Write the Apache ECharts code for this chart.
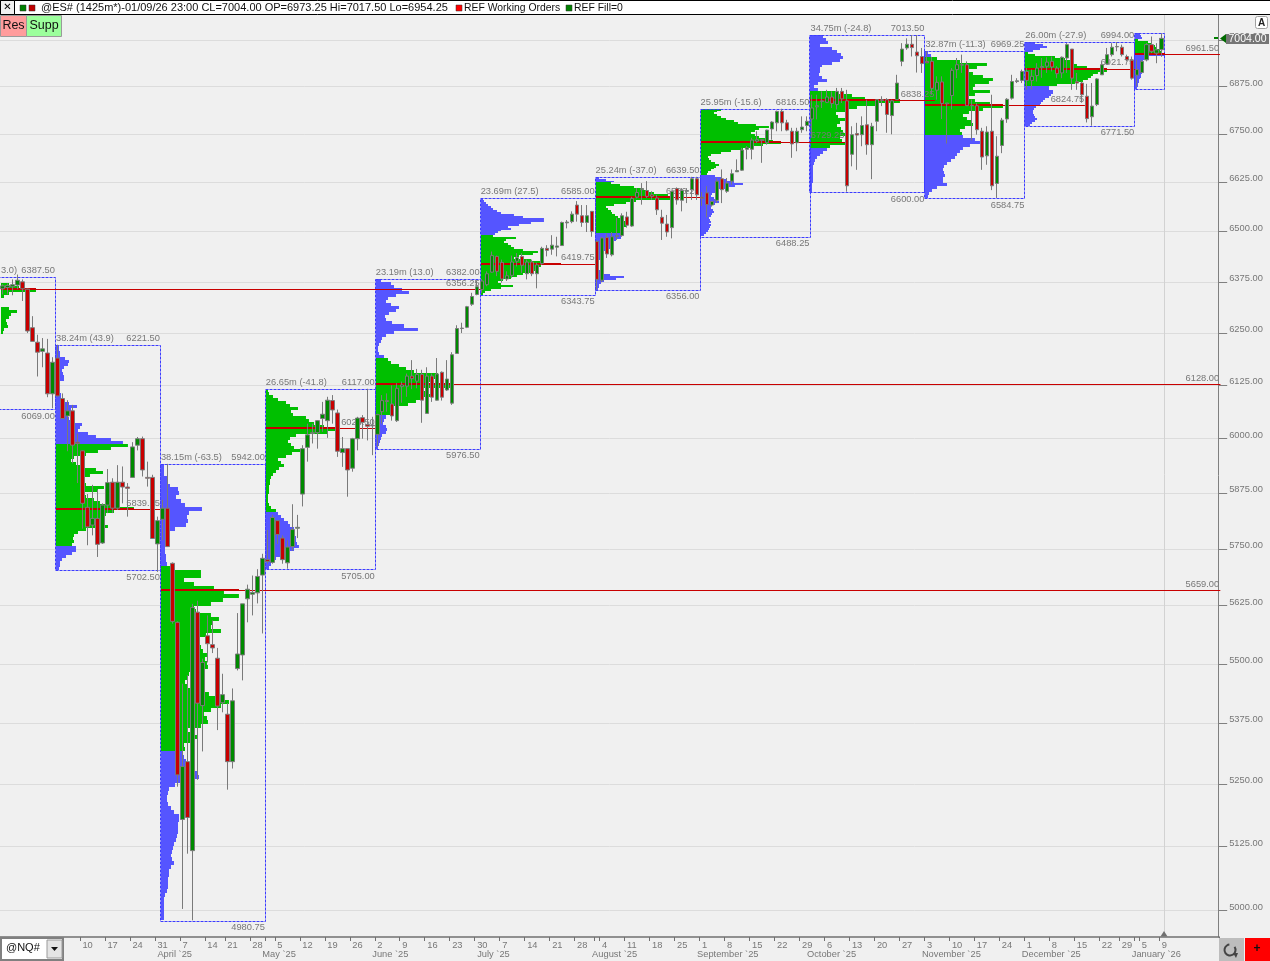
<!DOCTYPE html>
<html><head><meta charset="utf-8">
<style>html,body{margin:0;padding:0;background:#f0f0f0;overflow:hidden}#c{width:1270px;height:961px}</style>
<script src="https://cdn.jsdelivr.net/npm/echarts@6/dist/echarts.min.js"></script>
</head><body><div id="c"></div>
<script>
// rows are [open, close, low, high]
const candles = [
[6358,6365,6344,6369],[6361,6366,6344,6371],[6363,6368,6342,6381],[6367,6379,6357,6393],[6375,6358,6328,6381],
[6357,6255,6250,6358],[6263,6230,6230,6291],[6228,6204,6146,6246],[6206,6212,6168,6238],[6202,6105,6097,6236],
[6105,6180,6071,6192],[6190,6100,6098,6222],[6094,6047,6047,6106],[6053,6065,5971,6090],[6065,5985,5943,6079],
[5992,5989,5898,6012],[5972,5852,5795,5973],[5843,5799,5758,5873],[5803,5818,5780,5894],[5818,5760,5732,5883],
[5763,5848,5761,5852],[5848,5899,5830,5930],[5900,5841,5830,5909],[5841,5900,5837,5939],[5900,5889,5852,5936],
[5889,5886,5822,5898],[5911,5981,5911,5992],[5985,6000,5973,6004],[6000,5928,5913,6005],[5911,5909,5890,5947],
[5911,5773,5773,5917],[5761,5813,5699,5822],[5816,5841,5769,5860],[5841,5755,5754,5942],[5718,5591,5586,5720],
[5589,5269,5245,5591],[5179,5286,5003,5458],[5296,5183,5111,5476],[5117,5621,4981,5629],[5611,5417,5259,5636],
[5412,5503,5317,5511],[5560,5543,5503,5604],[5541,5534,5523,5593],[5512,5411,5361,5534],[5418,5435,5398,5479],
[5394,5296,5239,5417],[5296,5422,5282,5448],[5490,5521,5486,5609],[5519,5629,5465,5629],[5640,5661,5589,5671],
[5650,5654,5604,5691],[5653,5689,5630,5705],[5692,5729,5565,5739],[5726,5722,5717,5792],[5720,5820,5717,5826],
[5813,5782,5761,5814],[5774,5726,5717,5780],[5719,5754,5706,5769],[5755,5793,5746,5850],[5796,5798,5774,5826],
[5873,5977,5845,5985],[5980,6009,5947,6035],[6012,6014,5989,6035],[6014,6042,5977,6043],[6047,6057,6016,6086],
[6042,6090,6002,6098],[6089,6067,6035,6102],[6060,5971,5958,6068],[5968,5977,5935,6004],[5977,5928,5867,5977],
[5932,6000,5924,6002],[6000,6048,5973,6051],[6049,6038,6000,6055],[6033,6029,5996,6117],[6031,6030,5962,6051],
[6010,6056,5981,6058],[6063,6089,6035,6102],[6089,6087,6063,6106],[6081,6053,6042,6125],[6042,6118,6039,6130],
[6122,6126,6084,6134],[6123,6147,6098,6153],[6147,6141,6116,6185],[6135,6151,6118,6164],[6151,6090,6037,6162],
[6059,6147,6059,6168],[6147,6097,6086,6153],[6090,6152,6089,6190],[6156,6097,6089,6158],[6114,6140,6112,6185],
[6083,6198,6079,6204],[6201,6261,6200,6269],[6261,6262,6250,6275],[6264,6314,6262,6316],[6320,6339,6316,6348],
[6344,6363,6342,6377],[6356,6377,6348,6382],[6368,6395,6364,6401],[6399,6440,6398,6450],[6438,6401,6389,6440],
[6423,6382,6373,6430],[6382,6390,6377,6401],[6391,6424,6385,6440],[6426,6435,6413,6446],[6438,6416,6397,6446],
[6395,6424,6381,6430],[6424,6395,6389,6430],[6395,6417,6359,6422],[6420,6458,6417,6462],[6458,6453,6438,6466],
[6456,6466,6442,6491],[6461,6464,6438,6487],[6465,6523,6464,6525],[6522,6524,6508,6529],[6525,6544,6521,6551],
[6567,6544,6525,6577],[6540,6523,6512,6567],[6523,6540,6499,6567],[6551,6500,6487,6551],[6475,6381,6356,6479],
[6379,6484,6374,6487],[6485,6444,6434,6495],[6442,6487,6438,6499],[6488,6490,6479,6535],[6490,6540,6487,6546],
[6537,6516,6510,6550],[6514,6584,6512,6588],[6587,6599,6584,6610],[6606,6609,6568,6623],[6604,6589,6585,6628],
[6593,6589,6580,6602],[6585,6555,6542,6593],[6536,6521,6479,6555],[6519,6499,6487,6542],[6510,6602,6483,6602],
[6609,6580,6568,6612],[6579,6604,6551,6610],[6602,6604,6572,6610],[6606,6634,6580,6639],[6634,6593,6580,6639],
[6587,6584,6565,6600],[6598,6568,6536,6615],[6567,6576,6563,6576],[6579,6628,6572,6636],[6634,6606,6572,6658],
[6602,6623,6598,6636],[6628,6647,6619,6658],[6652,6655,6652,6684],[6656,6708,6654,6714],[6710,6714,6684,6718],
[6710,6734,6684,6740],[6731,6735,6727,6757],[6735,6733,6675,6735],[6727,6760,6722,6761],[6763,6781,6735,6783],
[6779,6809,6757,6811],[6809,6779,6757,6816],[6779,6760,6757,6787],[6757,6724,6688,6766],[6727,6757,6705,6766],
[6761,6768,6753,6796],[6772,6783,6757,6796],[6789,6818,6740,6853],[6821,6824,6788,6853],[6835,6837,6818,6862],
[6833,6847,6831,6866],[6847,6830,6818,6862],[6827,6862,6814,6871],[6862,6842,6831,6871],[6837,6616,6601,6866],
[6697,6748,6666,6770],[6751,6747,6657,6779],[6748,6772,6718,6796],[6774,6722,6696,6840],[6722,6770,6633,6779],
[6783,6840,6757,6840],[6840,6838,6823,6849],[6840,6801,6753,6844],[6798,6837,6749,6840],[6840,6884,6840,6906],
[6942,6975,6929,6991],[6978,6988,6973,7004],[6988,6979,6955,7013],[6967,6957,6912,7013],[6955,6936,6911,6978],
[6942,6938,6938,6969],[6942,6870,6853,6954],[6865,6886,6840,6902],[6887,6830,6789,6902],[6829,6831,6725,6831],
[6851,6918,6814,6924],[6920,6933,6897,6951],[6933,6932,6911,6960],[6933,6824,6824,6942],[6825,6824,6733,6840],
[6824,6761,6748,6831],[6757,6690,6657,6766],[6693,6755,6670,6770],[6757,6616,6605,6853],[6622,6692,6585,6744],
[6720,6786,6700,6792],[6789,6841,6779,6844],[6844,6888,6840,6906],[6888,6890,6884,6897],[6891,6915,6884,6920],
[6915,6891,6867,6924],[6891,6902,6867,6920],[6904,6924,6888,6937],[6925,6928,6898,6951],[6929,6940,6911,6953],
[6942,6927,6915,6955],[6924,6909,6897,6929],[6911,6953,6897,6955],[6951,6987,6911,6991],[6975,6897,6866,6975],
[6888,6884,6866,6911],[6884,6853,6832,6888],[6849,6790,6780,6882],[6795,6823,6771.5,6884],[6827,6895,6823,6897],
[6906,6933,6906,6942],[6935,6960,6933,6978],[6960,6980,6955,6991],[6981,6982,6969,6994],[6980,6960,6955,6987],
[6955,6946,6942,6960],[6945,6897,6893,6955],[6905,6920,6875,6946],[6912,6942,6911,6946],[6946,6987,6942,6991],
[6987,6969,6964,7009],[6964,6973,6937,6991],[6973.25,7004,6954.25,7017.5]
];

const priceTicks = [7000,6875,6750,6625,6500,6375,6250,6125,6000,5875,5750,5625,5500,5375,5250,5125,5000];
const holidays = ['2025-04-18','2025-12-25','2026-01-01'];
const labelledTicks = {'2025-03-10':'10','2025-03-17':'17','2025-03-24':'24','2025-03-31':'31','2025-04-07':'7','2025-04-14':'14','2025-04-21':'21','2025-04-28':'28','2025-05-05':'5','2025-05-12':'12','2025-05-19':'19','2025-05-26':'26','2025-06-02':'2','2025-06-09':'9','2025-06-16':'16','2025-06-23':'23','2025-06-30':'30','2025-07-07':'7','2025-07-14':'14','2025-07-21':'21','2025-07-28':'28','2025-08-04':'4','2025-08-11':'11','2025-08-18':'18','2025-08-25':'25','2025-09-01':'1','2025-09-08':'8','2025-09-15':'15','2025-09-22':'22','2025-09-29':'29','2025-10-06':'6','2025-10-13':'13','2025-10-20':'20','2025-10-27':'27','2025-11-03':'3','2025-11-10':'10','2025-11-17':'17','2025-11-24':'24','2025-12-01':'1','2025-12-08':'8','2025-12-15':'15','2025-12-22':'22','2025-12-29':'29','2026-01-05':'5','2026-01-09':'9'};
const unlabelledTicks = ['2025-05-01','2025-08-01','2026-01-02'];
const monthLabels = {'2025-03-31':'April `25','2025-04-30':'May `25','2025-05-30':'June `25','2025-06-30':'July `25','2025-07-31':'August `25','2025-08-29':'September `25','2025-09-30':'October `25','2025-10-31':'November `25','2025-11-28':'December `25','2025-12-31':'January `26'};

const profileStarts = [0,11,32,53,75,96,119,140,162,185,205,227];
const profileEnds   = [11,32,53,75,96,119,140,162,185,205,227,233];
const profileHighs  = [6387.5,6221.5,5942,6117,6382,6585,6639.5,6816.5,7013.5,6969.25,6994,7017.5];
const profileLows   = [6069,5702.5,4980.75,5705,5976.5,6343.75,6356,6488.25,6600,6584.75,6771.5,6868];
const volumeLabels  = ['3.0)','38.24m (43.9)','38.15m (-63.5)','26.65m (-41.8)','23.19m (13.0)','23.69m (27.5)','25.24m (-37.0)','25.95m (-15.6)','34.75m (-24.8)','32.87m (-11.3)','26.00m (-27.9)',''];
const highLabels    = ['6387.50','6221.50','5942.00','6117.00','6382.00','6585.00','6639.50','6816.50','7013.50','6969.25','6994.00',''];
const lowLabels     = ['6069.00','5702.50','4980.75','5705.00','5976.50','6343.75','6356.00','6488.25','6600.00','6584.75','6771.50',''];
const pocPrices     = [6356.25,5839.25,5659,6024.5,6128,6419.75,6586.25,6729.25,6838.25,6824.75,6921.75,6961.5];
const pocEnds       = [96,32,243.6,75,243.6,119,140,169,187.4,216.6,227,243.6];
const vaHighs       = [6400,5988,5710,6117,6190,6491,6627,6817,6866,6954,6965,7000];
const vaLows        = [6000,5753,5317,5830,6055,6343,6495,6642,6714,6743,6879,6959];

const volFeb = [0,0,8,18,35,8,3,0,0,0,8,16,10,8,5,6,7,3,2,0,0,0,0,0,0,0,0,0,0,0,0,0,0,0,0,0,0,0,0,0,0,0,0,0];
const volMar = [3,3,4,4,9,13,12,8,6,7,8,8,4,4,3,4,5,5,7,13,21,15,14,12,13,18,26,24,22,32,40,55,67,72,55,42,30,18,15,20,28,40,47,34,28,25,30,48,42,28,30,38,44,55,78,58,50,46,44,42,52,30,22,18,17,18,16,20,20,16,10,6,4,4,3];
const volApr = [3,3,3,6,7,9,17,18,15,20,24,41,28,26,27,25,14,7,6,4,4,4,4,5,5,6,10,
40,40,23,33,53,63,78,62,50,33,35,50,58,52,50,60,45,36,33,40,42,46,44,46,47,38,28,26,24,26,30,48,62,68,60,50,43,46,47,40,27,30,36,30,23,24,22,
23,25,28,30,36,38,20,14,8,7,6,6,7,10,13,18,18,17,17,17,16,15,13,12,11,10,11,13,10,8,8,7,7,7,6,4,3,3,3,3,3,3];
const volMay = [2,3,7,12,20,24,32,25,27,40,43,48,58,70,62,30,24,22,25,28,35,26,20,12,15,18,13,10,7,5,4,4,3,3,3,2,2,2,3,5,10,12,15,18,22,24,28,26,28,30,30,31,33,28,18,14,10,7,5,3];
const volJun = [5,15,18,26,33,20,12,10,15,23,20,13,9,10,16,28,42,18,10,6,5,3,2,2,3,8,12,15,23,30,38,62,60,56,52,78,48,50,55,46,40,32,18,17,14,10,8,7,10,11,10,6,5,4,3,2];
const volJul = [2,3,5,7,10,12,16,20,33,42,63,63,50,38,27,30,20,17,14,12,35,25,23,27,30,33,42,57,52,38,33,50,60,80,60,58,54,50,42,36,30,22,17,20,32,20,10,4,2];
const volAug = [3,10,18,15,24,38,46,50,58,72,68,75,40,30,18,10,12,15,16,19,22,24,26,30,30,30,28,27,28,26,25,25,20,18,15,15,14,9,7,6,5,5,4,3,3,3,3,3,5,8,14,28,20,8,5,3,3,2];
const volSep = [20,16,13,16,20,25,33,37,55,68,58,54,50,54,58,64,72,80,62,50,42,30,20,10,7,8,10,14,18,15,13,10,7,6,14,20,26,33,42,34,24,17,14,11,10,13,16,18,14,10,10,12,13,11,10,8,9,10,8,10,9,8,7,5,3];
const volOct = [13,16,18,10,22,27,31,33,30,22,12,10,10,9,12,17,8,4,8,25,42,55,90,67,47,38,26,28,35,30,27,31,33,35,30,32,35,20,17,13,10,7,5,4,3,3,3,3,3,3,2,2,2];
const volNov = [3,6,12,35,62,52,44,48,58,68,64,50,48,65,50,42,50,65,78,58,44,38,42,46,48,40,35,37,38,50,55,45,38,35,32,30,26,22,19,18,19,20,18,18,22,12,7,4,3];
const volDec = [10,18,22,15,8,3,10,30,40,45,48,52,62,74,82,73,68,66,63,58,50,32,24,24,28,28,26,24,20,18,16,15,11,9,8,8,9,10,12,10,7,5];
const volJan = [5,6,7,3,13,16,20,22,25,27,28,30,12,9,8,8,8,7,7,7,7,6,6,5,4,4,3,3,2];
const profileVols = [volFeb,volMar,volApr,volMay,volJun,volJul,volAug,volSep,volOct,volNov,volDec,volJan];

const SLOTS = 244;
const categories = [];
for (let d = new Date(Date.UTC(2025,1,14)); categories.length < candles.length; d = new Date(d.getTime()+864e5)) {
  const w = d.getUTCDay(), s = d.toISOString().slice(0,10);
  if (w !== 0 && w !== 6 && !holidays.includes(s)) categories.push(s);
}
while (categories.length < SLOTS) categories.push('future' + categories.length);

const GREEN='#00bf00', BLUE='#5555ff', RED='#c80000', GREY='#777777';
const FONT='9.3px "Liberation Sans"';

const rowData = [], boxData = [], pocData = [], textData = [];
profileVols.forEach((vols,i)=>{
  const hi=profileHighs[i], lo=profileLows[i], n=vols.length, r=Math.pow(lo/hi,1/n);
  vols.forEach((v,j)=>{
    if(!v) return;
    const a=hi*Math.pow(r,j), b=a*r, mid=(a+b)/2;
    rowData.push([profileStarts[i],a,b,v,(mid<=vaHighs[i]&&mid>=vaLows[i])?1:0]);
  });
  boxData.push([i===0?-3:profileStarts[i],hi,lo,profileEnds[i]]);
  pocData.push([profileStarts[i],pocPrices[i],pocEnds[i],Math.max(...vols)]);
  if(i===0) textData.push([0.2,hi,volumeLabels[i],'left',-6.5]);
  else if(volumeLabels[i]) textData.push([profileStarts[i],hi,volumeLabels[i],'left',-6.5]);
  if(highLabels[i]) textData.push([profileEnds[i],hi,highLabels[i],'right',-6.5]);
  if(lowLabels[i]) textData.push([profileEnds[i],lo,lowLabels[i],'right',7]);
  textData.push([pocEnds[i],pocPrices[i],pocPrices[i].toFixed(2),'right',-6]);
});

const edge=(api,slot,p)=>{const c=api.coord([slot,p]);return [c[0]-api.size([1,0])[0]/2,c[1]];};

const tickSet=new Set([...Object.keys(labelledTicks),...unlabelledTicks]);
const xCommon={type:'category',data:categories,boundaryGap:true,gridIndex:0};

const option={
  animation:false,
  backgroundColor:'#f0f0f0',
  grid:{left:-0.8,top:14,width:1220,height:923,containLabel:false},
  xAxis:[
    Object.assign({},xCommon,{position:'bottom',
      axisLine:{onZero:false,lineStyle:{color:'#707070',width:1.5}},
      axisTick:{show:true,length:4,lineStyle:{color:'#707070'},interval:(i,v)=>tickSet.has(v)},
      axisLabel:{show:true,margin:4,color:GREY,fontSize:9.3,fontFamily:'Liberation Sans',align:'left',
        hideOverlap:false,interval:(i,v)=>v in labelledTicks,formatter:v=>labelledTicks[v]||''},
      splitLine:{show:false}}),
    Object.assign({},xCommon,{position:'bottom',
      axisLine:{show:false,onZero:false},axisTick:{show:false},
      axisLabel:{show:true,margin:13,color:GREY,fontSize:9.3,fontFamily:'Liberation Sans',align:'left',
        hideOverlap:false,interval:(i,v)=>v in monthLabels,formatter:v=>monthLabels[v]||''},
      splitLine:{show:false}})
  ],
  yAxis:{type:'log',logBase:10,position:'right',offset:-1,min:4949.05,max:7070.2,
    axisLine:{show:true,lineStyle:{color:'#808080'}},
    axisTick:{show:true,length:9,lineStyle:{color:'#808080'},customValues:priceTicks},
    axisLabel:{show:true,margin:11,color:GREY,fontSize:9.3,fontFamily:'Liberation Sans',verticalAlign:'bottom',lineHeight:7,
      customValues:priceTicks,formatter:v=>Number(v).toFixed(2)},
    splitLine:{show:true,lineStyle:{color:'#dcdcdc',width:1}},
    minorTick:{show:false},minorSplitLine:{show:false}},
  series:[
    {name:'Volume profile',type:'custom',silent:true,z:2,data:rowData,encode:{x:0,y:1},
     renderItem:(p,api)=>{
       const a=edge(api,api.value(0),api.value(1)), b=api.coord([api.value(0),api.value(2)]);
       const y1=Math.round(a[1]), y2=Math.max(y1+1,Math.round(b[1]));
       return {type:'rect',shape:{x:Math.round(a[0])+1,y:y1,width:api.value(3)*api.size([1,0])[0]/5,height:y2-y1},
         style:{fill:api.value(4)?GREEN:BLUE}};
     }},
    {name:'Monthly range',type:'custom',silent:true,z:3,data:boxData,encode:{x:0,y:1},
     renderItem:(p,api)=>{
       const a=edge(api,api.value(0),api.value(1)), b=edge(api,api.value(3),api.value(2));
       const x=Math.round(a[0])+.5,y=Math.round(a[1])+.5;
       return {type:'rect',shape:{x:x,y:y,width:Math.round(b[0]-a[0]),height:Math.round(b[1]-a[1])},
         style:{fill:'none',stroke:'#3c3cff',lineWidth:1,lineDash:[3,1]}};
     }},
    {name:'Point of control',type:'custom',silent:true,z:4,data:pocData,encode:{x:0,y:1},
     renderItem:(p,api)=>{
       const a=edge(api,api.value(0),api.value(1)), b=edge(api,api.value(2),api.value(1));
       const y=Math.round(a[1]), x=Math.round(a[0])+1;
       return {type:'group',children:[
         {type:'rect',shape:{x:x,y:y-1,width:api.value(3),height:2},style:{fill:RED}},
         {type:'rect',shape:{x:x,y:y,width:b[0]-a[0],height:1},style:{fill:RED}}
       ]};
     }},
    {name:'Level labels',type:'custom',silent:true,z:5,data:textData.map(t=>[t[0],t[1],t[4]]),encode:{x:0,y:1},
     renderItem:(p,api)=>{
       const t=textData[p.dataIndex], a=edge(api,t[0],t[1]);
       return {type:'text',style:{text:t[2],x:a[0]+(t[3]==='left'?1:0),y:a[1]+t[4],align:t[3],verticalAlign:'middle',fill:GREY,font:FONT}};
     }},
    {name:'@ES#',type:'candlestick',z:6,data:candles,barWidth:4,silent:true,
     itemStyle:{color:'#008a00',color0:'#c80000',borderColor:'#7a7a7a',borderColor0:'#7a7a7a',borderColorDoji:'#7a7a7a',borderWidth:1}}
  ],
  graphic:{elements:[
    {type:'line',z:1,silent:true,shape:{x1:1164.5,y1:14,x2:1164.5,y2:935},style:{stroke:'#d2d2d2'}},
    {type:'polygon',z:50,silent:true,shape:{points:[[1164,931],[1160.5,936.5],[1167.5,936.5]]},style:{fill:'#707070'}},
    // header strip
    {type:'rect',z:60,shape:{x:0,y:0,width:1270,height:14},style:{fill:'#ffffff'}},
    {type:'line',z:61,shape:{x1:0,y1:14.5,x2:1270,y2:14.5},style:{stroke:'#000',lineWidth:1}},
    {type:'line',z:61,shape:{x1:0,y1:.5,x2:1270,y2:.5},style:{stroke:'#000',lineWidth:1}},
    {type:'rect',z:61,shape:{x:0.5,y:0.5,width:14,height:14},style:{fill:'#f0f0f0',stroke:'#000'}},
    {type:'text',z:62,style:{text:'✕',x:7.5,y:7.5,align:'center',verticalAlign:'middle',fill:'#000',font:'10px "DejaVu Sans"'}},
    {type:'rect',z:61,shape:{x:20,y:5,width:6,height:6},style:{fill:'#008000',stroke:'#333',lineWidth:.5}},
    {type:'rect',z:61,shape:{x:29,y:5,width:6,height:6},style:{fill:'#c00000',stroke:'#333',lineWidth:.5}},
    {type:'text',z:62,style:{text:'@ES# (1425m*)-01/09/26 23:00 CL=7004.00 OP=6973.25 Hi=7017.50 Lo=6954.25',x:41,y:8,verticalAlign:'middle',fill:'#111',font:'11px "Liberation Sans"'}},
    {type:'rect',z:61,shape:{x:456,y:5,width:6,height:6},style:{fill:'#ff0000',stroke:'#333',lineWidth:.5}},
    {type:'text',z:62,style:{text:'REF Working Orders',x:464,y:8,verticalAlign:'middle',fill:'#111',font:'10.4px "Liberation Sans"'}},
    {type:'rect',z:61,shape:{x:566,y:5,width:6,height:6},style:{fill:'#008000',stroke:'#333',lineWidth:.5}},
    {type:'text',z:62,style:{text:'REF Fill=0',x:574,y:8,verticalAlign:'middle',fill:'#111',font:'10.4px "Liberation Sans"'}},
    // Res / Supp
    {type:'rect',z:61,shape:{x:0.5,y:15.5,width:26,height:21},style:{fill:'#ff9c9c',stroke:'#9a9a9a'}},
    {type:'text',z:62,style:{text:'Res',x:13.5,y:26,align:'center',verticalAlign:'middle',fill:'#111',font:'12.5px "Liberation Sans"'}},
    {type:'rect',z:61,shape:{x:26.5,y:15.5,width:35,height:21},style:{fill:'#9cff9c',stroke:'#9a9a9a'}},
    {type:'text',z:62,style:{text:'Supp',x:44,y:26,align:'center',verticalAlign:'middle',fill:'#111',font:'12.5px "Liberation Sans"'}},
    // right side furniture
    {type:'rect',z:61,shape:{x:1255.5,y:16.5,width:12,height:12,r:2},style:{fill:'#ffffff',stroke:'#a0a0a0'}},
    {type:'text',z:62,style:{text:'A',x:1261.5,y:23,align:'center',verticalAlign:'middle',fill:'#222',font:'bold 10px "Liberation Sans"'}},
    {type:'rect',z:61,shape:{x:1214,y:37,width:4,height:2},style:{fill:'#008000'}},
    {type:'polygon',z:62,shape:{points:[[1220,38.5],[1226,34],[1226,43]]},style:{fill:'#006a00'}},
    {type:'rect',z:61,shape:{x:1226,y:34,width:43,height:10},style:{fill:'#757575'}},
    {type:'text',z:62,style:{text:'7004.00',x:1247.5,y:39.5,align:'center',verticalAlign:'middle',fill:'#fff',font:'10.5px "Liberation Sans"'}},
    // bottom-left instrument selector
    {type:'rect',z:61,shape:{x:1,y:938,width:62,height:22},style:{fill:'#ffffff',stroke:'#808080',lineWidth:2}},
    {type:'text',z:62,style:{text:'@NQ#',x:6,y:948,verticalAlign:'middle',fill:'#111',font:'11px "Liberation Sans"'}},
    {type:'rect',z:62,shape:{x:47,y:940,width:15,height:18},style:{fill:'#e4e4e4',stroke:'#9a9a9a'}},
    {type:'polygon',z:63,shape:{points:[[51,947],[58,947],[54.5,951]]},style:{fill:'#111'}},
    // bottom-right buttons
    {type:'rect',z:61,shape:{x:1219,y:938,width:25,height:23},style:{fill:'#bdbdbd'}},
    {type:'arc',z:62,shape:{cx:1230,cy:950,r:5.5,startAngle:-0.6,endAngle:4.6,clockwise:true},style:{fill:'none',stroke:'#444',lineWidth:2}},
    {type:'polygon',z:62,shape:{points:[[1233,953],[1238,953],[1236,958]]},style:{fill:'#444'}},
    {type:'rect',z:61,shape:{x:1245,y:938,width:25,height:23},style:{fill:'#ff0000'}},
    {type:'text',z:62,style:{text:'+',x:1257,y:949,align:'center',verticalAlign:'middle',fill:'#111',font:'bold 12px "Liberation Sans"'}}
  ]}
};
echarts.init(document.getElementById('c'),null,{renderer:'canvas',width:1270,height:961}).setOption(option);
</script></body></html>
